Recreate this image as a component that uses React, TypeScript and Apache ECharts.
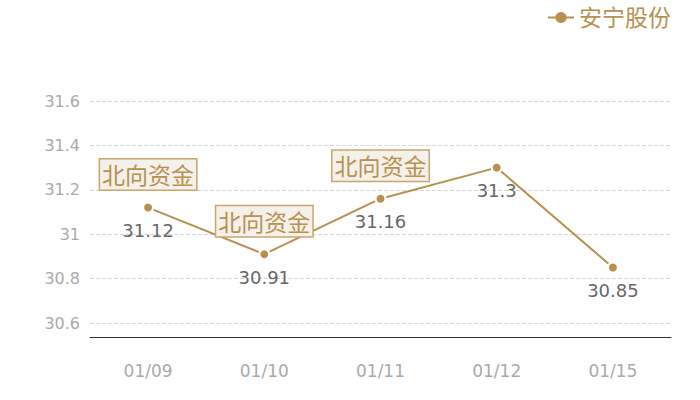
import React, { useEffect, useRef } from "react";
import * as echarts from "echarts";

const categories = ["01/09", "01/10", "01/11", "01/12", "01/15"];
const prices = [31.12, 30.91, 31.16, 31.3, 30.85];
const seriesName = "安宁股份";
const flagLabel = "北向资金";
const flagIndexes = [0, 1, 2];
const yMin = 30.537;
const yMax = 31.6;
const yInterval = 0.2;

const GOLD = "#b8914f";

export default function App() {
  const ref = useRef<HTMLDivElement>(null);
  useEffect(() => {
    document.body.style.margin = "0";
    if (!ref.current) return;
    const chart = echarts.init(ref.current, undefined, { renderer: "svg" });
    chart.setOption({
      animation: false,
      textStyle: { fontFamily: "DejaVu Sans, Noto Sans CJK SC, sans-serif" },
      legend: {
        right: 24,
        top: 1,
        itemWidth: 26,
        itemHeight: 14,
        itemGap: 10,
        itemStyle: { borderWidth: 0 },
        textStyle: { color: GOLD, fontSize: 23 },
        data: [{ name: seriesName }],
      },
      grid: { left: 90, right: 29, top: 101, bottom: 63 },
      xAxis: {
        type: "category",
        data: categories,
        boundaryGap: true,
        axisLine: { lineStyle: { color: "#333", width: 1 } },
        axisTick: { show: false },
        axisLabel: { color: "#aaa", fontSize: 17, margin: 25 },
        splitLine: { show: false },
      },
      yAxis: {
        type: "value",
        min: yMin,
        max: yMax,
        splitNumber: 5,
        axisLine: { show: false },
        axisTick: { show: false },
        axisLabel: {
          color: "#aaa",
          fontSize: 16,
          margin: 10,
          showMinLabel: false,
          formatter: (v: number) => {
            const r = Math.round(v / yInterval) * yInterval;
            if (Math.abs(r - v) > 1e-6) return "";
            return String(Number(v.toFixed(1)));
          },
        },
        splitLine: { lineStyle: { color: "#d6d6d6", type: "dashed" } },
      },
      series: [
        {
          name: seriesName,
          type: "line",
          data: prices,
          symbol: "circle",
          symbolSize: 10,
          showSymbol: true,
          lineStyle: { color: GOLD, width: 2 },
          itemStyle: { color: GOLD, borderColor: "#fff", borderWidth: 2 },
          label: {
            show: true,
            position: "bottom",
            distance: 8,
            color: "#666",
            fontSize: 18,
          },
          markPoint: {
            symbol: "circle",
            symbolSize: 0,
            label: {
              show: true,
              position: "top",
              distance: 18,
              formatter: flagLabel,
              color: GOLD,
              fontSize: 23,
              backgroundColor: "#f4f0ea",
              borderColor: "#c9a66b",
              borderWidth: 1.5,
              padding: [5, 2, 2, 2],
            },
            data: flagIndexes.map((i) => ({
              coord: [categories[i], prices[i]],
              value: flagLabel,
            })),
          },
        },
      ],
    });
    return () => chart.dispose();
  }, []);
  return <div ref={ref} style={{ width: 700, height: 400 }} />;
}
